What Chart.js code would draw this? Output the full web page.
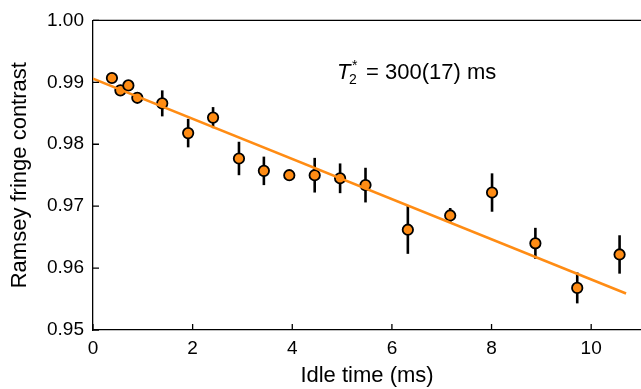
<!DOCTYPE html>
<html>
<head>
<meta charset="utf-8">
<script src="https://cdn.jsdelivr.net/npm/chart.js@4"></script>
<style>
  html, body { margin: 0; padding: 0; background: #fff; }
  #wrap { width: 641px; height: 389px; }
</style>
</head>
<body>
<div id="wrap"><canvas id="chart" width="641" height="389"></canvas></div>
<script>
const idleTime = [0.38, 0.55, 0.71, 0.89, 1.39, 1.91, 2.41, 2.93, 3.43, 3.94, 4.45, 4.96, 5.47, 6.32, 7.17, 8.01, 8.88, 9.72, 10.57];
const contrast = [0.9907, 0.9887, 0.9895, 0.9875, 0.9866, 0.9818, 0.9843, 0.9777, 0.9757, 0.9750, 0.9750, 0.9745, 0.9734, 0.9662, 0.9685, 0.9722, 0.9640, 0.9568, 0.9622];
const contrastErr = [0.0003, 0.0003, 0.0003, 0.0003, 0.0021, 0.0023, 0.0017, 0.0027, 0.0023, 0.0003, 0.0028, 0.0024, 0.0028, 0.0039, 0.0012, 0.0031, 0.0025, 0.0025, 0.0031];

// linear fit end points
const fitX = [0, 10.7];
const fitY = [0.9906, 0.9559];

const xTicks = [0, 2, 4, 6, 8, 10];
const yTicks = [0.95, 0.96, 0.97, 0.98, 0.99, 1.00];

const orange = '#ff8c14';
const fontFam = '"Liberation Sans", Arial, Helvetica, sans-serif';

const points = idleTime.map((x, i) => ({ x: x, y: contrast[i] }));
const fitLine = fitX.map((x, i) => ({ x: x, y: fitY[i] }));

// error bars drawn under the markers
const errorBars = {
  id: 'errorBars',
  beforeDatasetDraw(chart, args) {
    if (args.index !== 1) return;
    const { ctx, scales: { x, y } } = chart;
    ctx.save();
    ctx.strokeStyle = '#000';
    ctx.lineWidth = 2.6;
    idleTime.forEach((t, i) => {
      const px = x.getPixelForValue(t);
      ctx.beginPath();
      ctx.moveTo(px, y.getPixelForValue(contrast[i] - contrastErr[i]));
      ctx.lineTo(px, y.getPixelForValue(contrast[i] + contrastErr[i]));
      ctx.stroke();
    });
    ctx.restore();
  }
};

// frame, inward ticks and the T2* note
const frame = {
  id: 'frame',
  afterDraw(chart) {
    const { ctx, chartArea: a, scales: { x, y } } = chart;
    ctx.save();
    ctx.strokeStyle = '#000';
    ctx.lineWidth = 1.3;
    ctx.beginPath();
    ctx.moveTo(a.left, a.top);
    ctx.lineTo(a.right, a.top);
    ctx.stroke();
    ctx.beginPath();
    xTicks.forEach(v => {
      const px = x.getPixelForValue(v);
      ctx.moveTo(px, a.bottom);
      ctx.lineTo(px, a.bottom - 6);
    });
    yTicks.forEach(v => {
      const py = y.getPixelForValue(v);
      ctx.moveTo(a.left, py);
      ctx.lineTo(a.left + 6, py);
    });
    ctx.stroke();

    ctx.fillStyle = '#000';
    ctx.textBaseline = 'alphabetic';
    const bx = 337, by = 79;
    ctx.font = 'italic 22px ' + fontFam;
    ctx.fillText('T', bx, by);
    ctx.font = '14px ' + fontFam;
    ctx.fillText('2', bx + 12, by + 5);
    ctx.fillText('*', bx + 15, by - 9);
    ctx.font = '22px ' + fontFam;
    ctx.fillText('= 300(17) ms', bx + 29, by);
    ctx.restore();
  }
};

new Chart(document.getElementById('chart'), {
  data: {
    datasets: [
      {
        type: 'line',
        data: fitLine,
        borderColor: orange,
        borderWidth: 2.6,
        pointRadius: 0,
        fill: false
      },
      {
        type: 'scatter',
        data: points,
        backgroundColor: orange,
        borderColor: '#000',
        borderWidth: 1.8,
        pointRadius: 5.2
      }
    ]
  },
  options: {
    responsive: false,
    animation: false,
    events: [],
    layout: { autoPadding: false, padding: { top: 17, right: 0, left: 0, bottom: 0 } },
    plugins: { legend: { display: false }, tooltip: { enabled: false } },
    scales: {
      x: {
        type: 'linear',
        min: 0,
        max: 11,
        afterBuildTicks: s => { s.ticks = xTicks.map(v => ({ value: v })); },
        afterFit: s => { s.height = 59; },
        grid: { display: false, drawTicks: false },
        border: { display: true, color: '#000', width: 1.3 },
        ticks: { color: '#000', padding: 7, font: { family: fontFam, size: 19 } },
        title: {
          display: true,
          text: 'Idle time (ms)',
          color: '#000',
          padding: { top: 0, bottom: 0 },
          font: { family: fontFam, size: 22 }
        }
      },
      y: {
        min: 0.95,
        max: 1.0,
        afterBuildTicks: s => { s.ticks = yTicks.map(v => ({ value: v })); },
        afterFit: s => { s.width = 93; },
        grid: { display: false, drawTicks: false },
        border: { display: true, color: '#000', width: 1.3 },
        ticks: {
          color: '#000',
          padding: 9,
          font: { family: fontFam, size: 19 },
          callback: v => v.toFixed(2)
        },
        title: {
          display: true,
          text: 'Ramsey fringe contrast',
          color: '#000',
          padding: { top: 7, bottom: 0 },
          font: { family: fontFam, size: 22 }
        }
      }
    }
  },
  plugins: [errorBars, frame]
});
</script>
</body>
</html>
